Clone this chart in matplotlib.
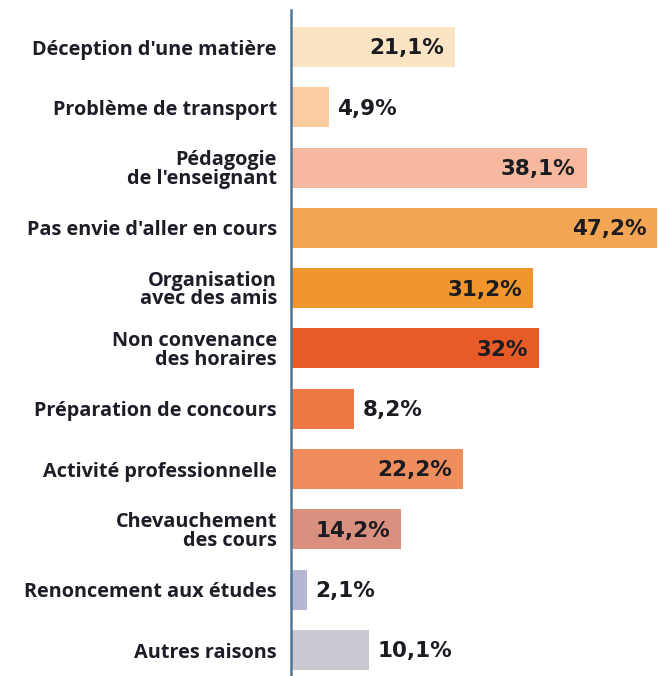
import matplotlib
matplotlib.use("Agg")
import matplotlib.pyplot as plt

categories = [
    "Déception d'une matière",
    "Problème de transport",
    "Pédagogie\nde l'enseignant",
    "Pas envie d'aller en cours",
    "Organisation\navec des amis",
    "Non convenance\ndes horaires",
    "Préparation de concours",
    "Activité professionnelle",
    "Chevauchement\ndes cours",
    "Renoncement aux études",
    "Autres raisons",
]
values = [21.1, 4.9, 38.1, 47.2, 31.2, 32.0, 8.2, 22.2, 14.2, 2.1, 10.1]
value_labels = ["21,1%", "4,9%", "38,1%", "47,2%", "31,2%", "32%",
                "8,2%", "22,2%", "14,2%", "2,1%", "10,1%"]
colors = ["#fbe4c3", "#f9cda0", "#f6b9a0", "#f2a553", "#f0962c", "#e85b26",
          "#ee7a42", "#f08d5c", "#d9907f", "#b6b8d2", "#c9c9d2"]

fig = plt.figure(figsize=(6.58, 6.76), dpi=100)
ax = fig.add_axes([0.442, 0.0, 0.558, 1 - 10 / 676])

pitch = 60.3
top = -37 / pitch
bottom = (676 - 47) / pitch
ax.set_ylim(bottom, top)
ax.set_xlim(0, 47.3)

ypos = list(range(len(values)))
ax.barh(ypos, values, height=40 / pitch, color=colors, edgecolor="none")

label_style = dict(va="center", fontsize=15.5, fontweight="heavy",
                   color="#1b1b22", family="DejaVu Sans",
                   textcoords="offset points")
for y, v, lab in zip(ypos, values, value_labels):
    if v >= 14:
        ax.annotate(lab, (v, y), xytext=(-8, -1), ha="right", **label_style)
    else:
        ax.annotate(lab, (v, y), xytext=(6, -1), ha="left", **label_style)

ax.set_yticks(ypos)
ax.set_yticklabels(categories, fontsize=14.3, fontweight="bold",
                   family="Open Sans", color="#1d1d28", linespacing=0.92)
ax.tick_params(axis="y", length=0, pad=10)
for lab in ax.get_yticklabels():
    lab.set_horizontalalignment("right")
ax.set_xticks([])

for s in ["top", "right", "bottom"]:
    ax.spines[s].set_visible(False)
ax.spines["left"].set_color("#4f7699")
ax.spines["left"].set_linewidth(1.8)

fig.savefig("out.png", dpi=100)
